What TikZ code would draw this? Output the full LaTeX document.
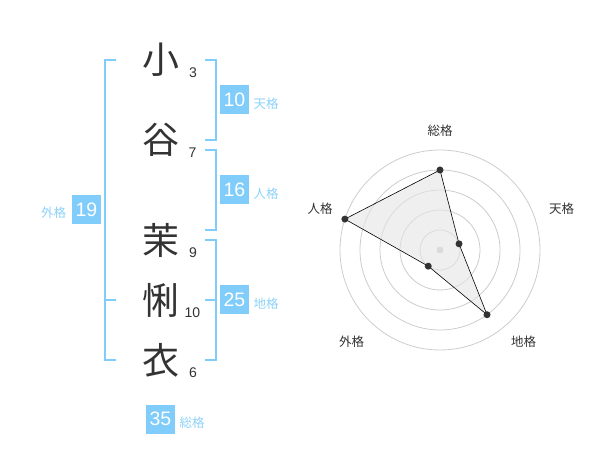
\documentclass[tikz,border=0pt]{standalone}
\usepackage{fontspec}
\setmainfont{Liberation Sans}
\newfontfamily\jpfont{Noto Sans CJK JP}
\definecolor{kakublue}{RGB}{128,204,250}
\definecolor{kakulabel}{RGB}{140,210,250}
\definecolor{inkgray}{RGB}{51,51,51}

\begin{document}
\begin{tikzpicture}[x=1pt,y=-1pt,
  kanji/.style={inkgray,font=\jpfont\fontsize{37}{37}\selectfont,inner sep=0},
  strokes/.style={inkgray,font=\fontsize{14}{14}\selectfont,inner sep=0},
  kakubox/.style={fill=kakublue,text=white,minimum size=29pt,inner sep=0,font=\fontsize{19.5}{19.5}\selectfont},
  kakuname/.style={kakulabel,font=\jpfont\fontsize{12.5}{12.5}\selectfont,inner sep=0},
  bracket/.style={kakublue,line width=2pt},
  axisname/.style={inkgray,font=\jpfont\fontsize{12.5}{12.5}\selectfont,inner sep=0},
  ring/.style={black!20,line width=0.8pt},
  dot/.style={circle,fill=inkgray,inner sep=0,minimum size=7pt}]
  \useasboundingbox (0,0) rectangle (600,470);

  % name and stroke counts
  \node[kanji] (c1) at (160.5,60) {小};
  \node[kanji] (c2) at (160.5,140) {谷};
  \node[kanji] (c3) at (160.5,240) {茉};
  \node[kanji] (c4) at (160.5,300) {悧};
  \node[kanji] (c5) at (160.5,360) {衣};

  \node[strokes] (n1) at (193,73) {3};
  \node[strokes] (n2) at (192.5,153) {7};
  \node[strokes] (n3) at (193,253) {9};
  \node[strokes] (n4) at (192.5,313) {10};
  \node[strokes] (n5) at (193,373) {6};

  % brackets
  \draw[bracket] (116,60) -| (105,360) -- (116,360);
  \draw[bracket] (105,300) -- (116,300);
  \draw[bracket] (205,60) -| (215.5,140) -- (205,140);
  \draw[bracket] (205,150) -| (215.5,230) -- (205,230);
  \draw[bracket] (205,240) -| (215.5,360) -- (205,360);
  \draw[bracket] (205,300) -- (215.5,300);

  \node[kakubox] (bgai) at (86.5,210) {19};
  \node[kakuname] (lgai) at (53.5,213) {外格};
  \node[kakubox] (bten) at (234.5,100) {10};
  \node[kakuname] (lten) at (266,104) {天格};
  \node[kakubox] (bjin) at (234.5,190) {16};
  \node[kakuname] (ljin) at (266,194) {人格};
  \node[kakubox] (bchi) at (234.5,300) {25};
  \node[kakuname] (lchi) at (266,304) {地格};
  \node[kakubox] (bsou) at (160.5,419) {35};
  \node[kakuname] (lsou) at (192,423) {総格};

  % radar
  \begin{scope}[shift={(440,250)},y=1pt]
    \foreach \r in {20,40,...,100}
      \draw[ring] (0,0) circle (\r);
    \node[dot,fill=black!20] (mid) at (0,0) {};

    \coordinate (rsou) at (90:80);
    \coordinate (rten) at (18:20);
    \coordinate (rchi) at (-54:80);
    \coordinate (rgai) at (-126:20);
    \coordinate (rjin) at (162:100);

    \filldraw[fill=black!10,fill opacity=0.6,draw=black,line width=0.6pt]
      (rsou) -- (rten) -- (rchi) -- (rgai) -- (rjin) -- cycle;
    \foreach \p in {rsou,rten,rchi,rgai,rjin}
      \node[dot] at (\p) {};

    \node[axisname] (asou) at (0,119.5) {総格};
    \node[axisname] (aten) at (121.5,41.5) {天格};
    \node[axisname] (ajin) at (-120,41.5) {人格};
    \node[axisname] (agai) at (-88.5,-91.5) {外格};
    \node[axisname] (achi) at (83.5,-91.5) {地格};
  \end{scope}

\end{tikzpicture}
\end{document}
